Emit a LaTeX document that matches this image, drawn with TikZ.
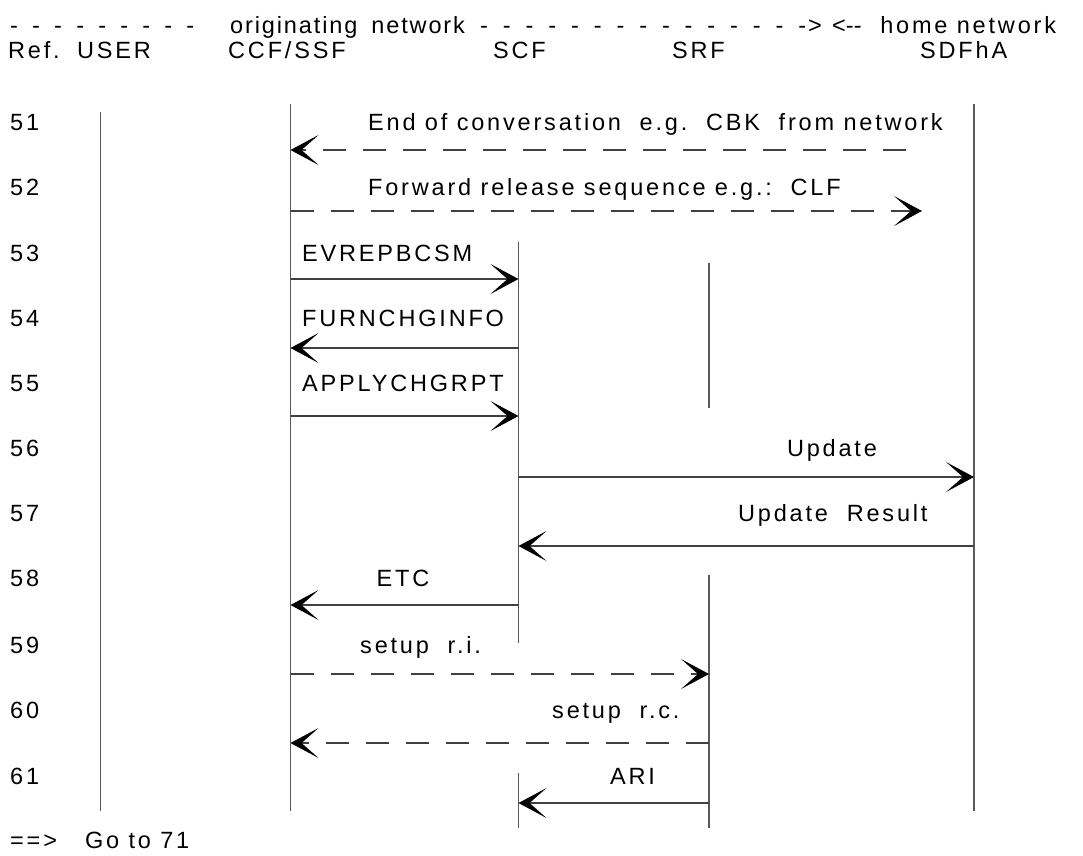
\documentclass[tikz,border=0pt]{standalone}
\usepackage{fontspec}
\setmainfont{Liberation Sans}[LetterSpace=12.0]
\usetikzlibrary{arrows.meta}

% a run of spaced dashes: #1 dashes, #2 extra gap
\newcommand{\dashrun}[2]{\foreach \i in {1,...,#1}{-\hskip #2pt}}

\tikzset{
  life/.style={draw=black!65, line width=1.2pt},
  msg/.style={draw=black!75, line width=1.2pt, -{Stealth[length=28pt, width=30pt, inset=17pt, color=black]}},
  msgd/.style={msg, dash pattern=on 23pt off 17pt},
  lbl/.style={anchor=base west, inner sep=0pt},
  tight/.style={lbl, font=\fontsize{23.5}{28}\selectfont\addfontfeatures{LetterSpace=8.0}},
}

\begin{document}
\begin{tikzpicture}[x=1pt, y=-1pt, font=\fontsize{23.5}{28}\selectfont]
\useasboundingbox (0,0) rectangle (1083,855);

% header lines
\node[tight] (dashl) at (10,33) {\dashrun{8}{14.2}-};
\node[tight] (orig) at (230,33) {originating\hskip 14pt network};
\node[tight] (dashr) at (480,33) {\dashrun{14}{14.9}->};
\node[lbl] (home) at (832,33) {<\mbox{-}\mbox{-}\ \ home network};

\node[lbl] (ref) at (8,58) {Ref.};
\node[lbl] (huser) at (77,58) {USER};
\node[lbl] (hccf) at (228,58) {CCF/SSF};
\node[lbl] (hscf) at (493,58) {SCF};
\node[lbl] (hsrf) at (672,58) {SRF};
\node[lbl] (hsdf) at (920,58) {SDFhA};

% row numbers
\node[lbl] (r51) at (10,130.5) {51};
\node[lbl] (r52) at (10,195.5) {52};
\node[lbl] (r53) at (10,261) {53};
\node[lbl] (r54) at (10,326) {54};
\node[lbl] (r55) at (10,391) {55};
\node[lbl] (r56) at (10,456.5) {56};
\node[lbl] (r57) at (10,521.5) {57};
\node[lbl] (r58) at (10,586.5) {58};
\node[lbl] (r59) at (10,653) {59};
\node[lbl] (r60) at (10,718) {60};
\node[lbl] (r61) at (10,784) {61};

\node[lbl] (goto) at (10,848) {==>\ \ \ Go to 71};

% life lines
\coordinate (userT) at (100.5,112);
\coordinate (userB) at (100.5,811);
\coordinate (ccfT) at (290.5,104);
\coordinate (ccfB) at (290.5,811);
\coordinate (scfT) at (518.5,242);
\coordinate (scfB) at (518.5,643);
\coordinate (scfT2) at (518.5,773);
\coordinate (scfB2) at (518.5,828);
\coordinate (srfT) at (709,263);
\coordinate (srfB) at (709,408);
\coordinate (srfT2) at (709,575);
\coordinate (srfB2) at (709,828);
\coordinate (sdfT) at (974,104);
\coordinate (sdfB) at (974,811);

\draw[life] (userT) -- (userB);
\draw[life] (ccfT) -- (ccfB);
\draw[life] (scfT) -- (scfB);
\draw[life] (scfT2) -- (scfB2);
\draw[life] (srfT) -- (srfB);
\draw[life] (srfT2) -- (srfB2);
\draw[life] (sdfT) -- (sdfB);

% messages
\node[lbl] (l51) at (368,130.5) {End of conversation\ \ e.g.\ \ CBK\ \ from network};
\coordinate (e51) at (906,150);
\draw[msgd] (e51) -- (ccfT |- e51);

\node[lbl] (l52) at (368,195.5) {Forward release sequence e.g.:\ \ CLF};
\coordinate (e52) at (922,211);
\draw[msgd] (ccfT |- e52) -- (e52);

\node[lbl] (l53) at (302,261) {EVREPBCSM};
\coordinate (m53) at (0,279);
\draw[msg] (ccfT |- m53) -- (scfT |- m53);

\node[lbl] (l54) at (302,326) {FURNCHGINFO};
\coordinate (m54) at (0,348);
\draw[msg] (scfT |- m54) -- (ccfT |- m54);

\node[lbl] (l55) at (302,391) {APPLYCHGRPT};
\coordinate (m55) at (0,416);
\draw[msg] (ccfT |- m55) -- (scfT |- m55);

\node[lbl, anchor=base] (l56) at (832,456.5) {Update};
\coordinate (m56) at (0,477);
\draw[msg] (scfT |- m56) -- (sdfT |- m56);

\node[lbl] (l57) at (738,521.5) {Update\ \ Result};
\coordinate (m57) at (0,546);
\draw[msg] (sdfT |- m57) -- (scfT |- m57);

\node[lbl, anchor=base] (l58) at (403,586.5) {ETC};
\coordinate (m58) at (0,605);
\draw[msg] (scfT |- m58) -- (ccfT |- m58);

\node[lbl] (l59) at (360,653) {setup\ \ r.i.};
\coordinate (m59) at (0,674);
\draw[msgd] (ccfT |- m59) -- (srfT |- m59);

\node[lbl] (l60) at (552,718) {setup\ \ r.c.};
\coordinate (m60) at (0,743);
\draw[msgd] (srfT |- m60) -- (ccfT |- m60);

\node[lbl] (l61) at (610,784) {ARI};
\coordinate (m61) at (0,803);
\draw[msg] (srfT |- m61) -- (scfT |- m61);
\end{tikzpicture}
\end{document}
